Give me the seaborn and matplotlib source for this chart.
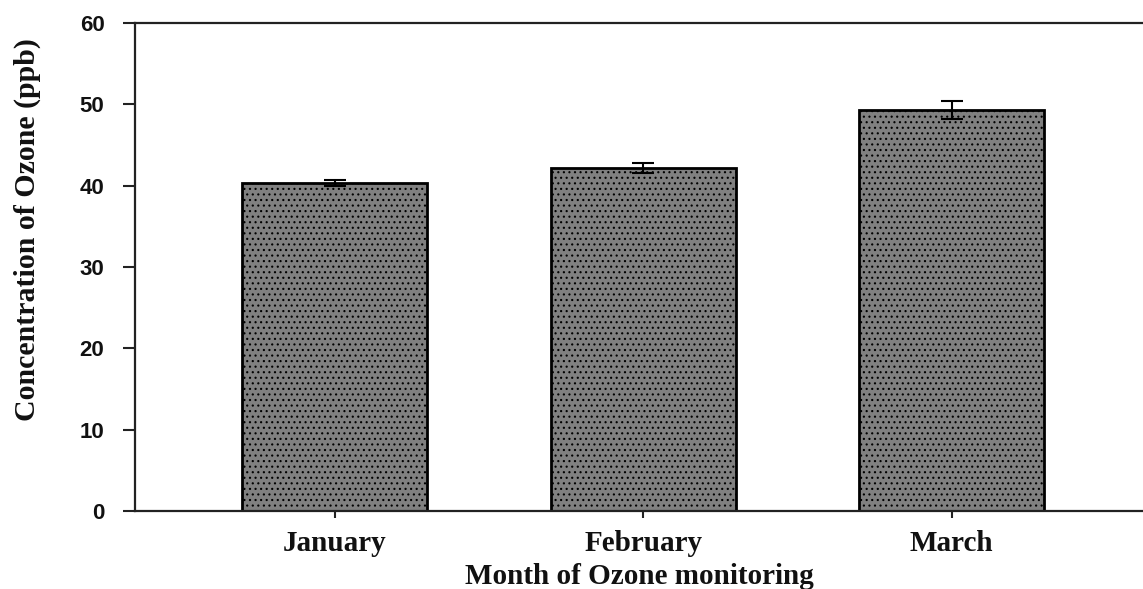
import matplotlib
matplotlib.use("Agg")
import matplotlib.pyplot as plt
import seaborn as sns
import pandas as pd

months = ["January", "February", "March"]
ozone_mean = [40.3, 42.2, 49.3]
ozone_err = [0.35, 0.6, 1.1]
y_ticks = [0, 10, 20, 30, 40, 50, 60]

sns.set_theme(style="white")
plt.rcParams["hatch.linewidth"] = 0.8

df = pd.DataFrame({"month": months, "ozone": ozone_mean})

fig = plt.figure(figsize=(11.43, 5.89), dpi=100)
ax = fig.add_axes([0.1181, 0.1324, 0.8819, 0.8286])

sns.barplot(data=df, x="month", y="ozone", color="#808080", saturation=1,
            width=0.6, edgecolor="black", linewidth=2, errorbar=None, ax=ax)
for patch in ax.patches:
    patch.set_hatch("...")

ax.errorbar(range(len(months)), ozone_mean, yerr=ozone_err, fmt="none",
            ecolor="black", elinewidth=1.5, capsize=8, capthick=1.5)

ax.set_ylim(0, 60)
ax.set_yticks(y_ticks)
ax.set_xlim(-0.648, 2.62)

for side in ["left", "top", "bottom"]:
    ax.spines[side].set_visible(True)
    ax.spines[side].set_color("#222222")
    ax.spines[side].set_linewidth(1.6)
ax.spines["right"].set_visible(False)

ax.tick_params(axis="y", direction="out", length=9, width=1.5, pad=13,
               left=True, colors="#222222")
ax.tick_params(axis="x", direction="out", length=5, width=1.5, pad=9,
               bottom=True, colors="#222222")

for lbl in ax.get_yticklabels():
    lbl.set_fontfamily("Liberation Sans")
    lbl.set_fontweight("bold")
    lbl.set_fontsize(16)
    lbl.set_color("#111111")
for lbl in ax.get_xticklabels():
    lbl.set_fontfamily("Liberation Serif")
    lbl.set_fontweight("bold")
    lbl.set_fontsize(21)
    lbl.set_color("#111111")

ax.set_xlabel("Month of Ozone monitoring", fontfamily="Liberation Serif",
              fontweight="bold", fontsize=21, color="#111111")
ax.set_ylabel("Concentration of Ozone (ppb)", fontfamily="Liberation Serif",
              fontweight="bold", fontsize=21.5, color="#111111")
ax.xaxis.set_label_coords(0.5, -0.106)
ax.yaxis.set_label_coords(-0.093, 0.576)

fig.savefig("out.png", dpi=100)
